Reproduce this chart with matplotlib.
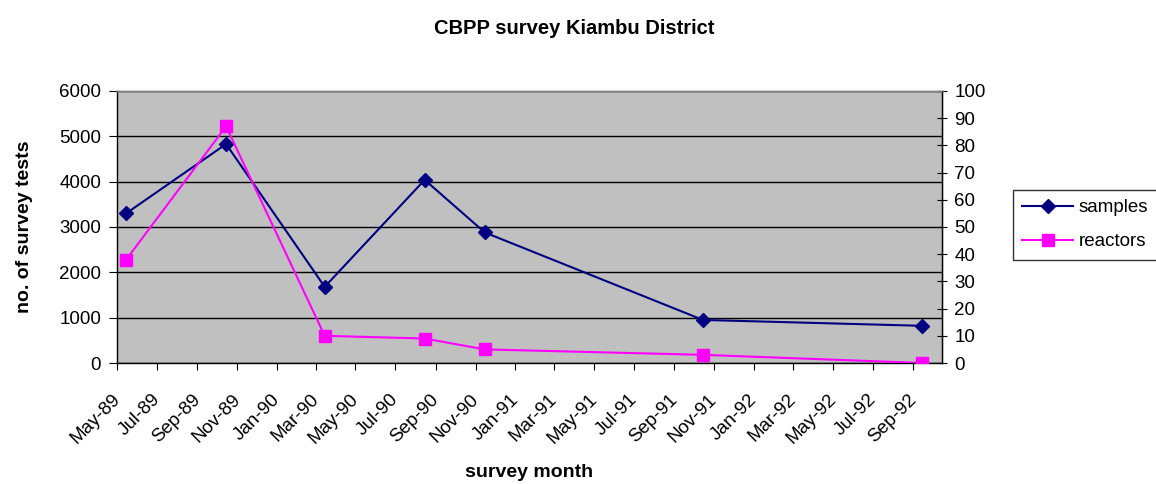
import matplotlib
matplotlib.use("Agg")
import matplotlib.pyplot as plt
import matplotlib.dates as mdates
from matplotlib.transforms import ScaledTranslation
import numpy as np
from datetime import datetime

plt.rcParams['font.family'] = ['Liberation Sans', 'DejaVu Sans']

survey_dates = ["1989-05-15", "1989-10-15", "1990-03-15", "1990-08-15",
                "1990-11-15", "1991-10-15", "1992-09-15"]
samples = [3300, 4830, 1680, 4040, 2880, 950, 820]
reactors = [38, 87, 10, 9, 5, 3, 0]

dates = [datetime.strptime(d, "%Y-%m-%d") for d in survey_dates]

fig = plt.figure(figsize=(11.56, 4.84), dpi=100)
ax = fig.add_axes([0.1012, 0.25, 0.7137, 0.562])
ax.set_facecolor('#C0C0C0')

ax.plot(dates, samples, color='#000080', lw=1.5, marker='D', markersize=7,
        label='samples', zorder=4)
ax.set_ylim(0, 6000)
ax.set_yticks(np.arange(0, 6001, 1000))
ax.yaxis.grid(True, color='black', lw=1)
ax.set_axisbelow(True)

ax.set_xlim(datetime(1989, 5, 1), datetime(1992, 10, 15))
ax.xaxis.set_major_locator(mdates.MonthLocator(bymonth=[1, 3, 5, 7, 9, 11]))
ax.xaxis.set_major_formatter(mdates.DateFormatter('%b-%y'))

ax2 = ax.twinx()
ax2.plot(dates, reactors, color='#FF00FF', lw=1.5, marker='s', markersize=8,
         label='reactors', zorder=4)
ax2.set_ylim(0, 100)
ax2.set_yticks(np.arange(0, 101, 10))

for a in (ax, ax2):
    for s in a.spines.values():
        s.set_color('#808080')
        s.set_linewidth(1)
ax.spines['left'].set_color('black')
ax.spines['bottom'].set_color('black')
ax2.spines['right'].set_color('black')
ax2.spines['left'].set_visible(False)
ax2.spines['bottom'].set_visible(False)

ax.tick_params(axis='y', labelsize=13.5, length=6, pad=5.5, direction='out')
ax.tick_params(axis='x', labelsize=13.5, length=5, pad=12, direction='out',
               rotation=45)
ax2.tick_params(axis='y', labelsize=13.5, length=7.5, pad=5, direction='inout')

ax.set_ylabel('no. of survey tests', fontsize=14, fontweight='bold', labelpad=19)
ax.set_xlabel('survey month', fontsize=14, fontweight='bold', labelpad=12)
fig.suptitle('CBPP survey Kiambu District', fontsize=14.5, fontweight='bold',
             x=0.497, y=0.96)

h1, l1 = ax.get_legend_handles_labels()
h2, l2 = ax2.get_legend_handles_labels()
leg = fig.legend(h1 + h2, l1 + l2, loc='upper left',
                 bbox_to_anchor=(1013 / 1156, 1 - 190 / 484),
                 fontsize=13.5, frameon=True, fancybox=False, edgecolor='black',
                 borderaxespad=0, handlelength=2.7, handletextpad=0.3,
                 borderpad=0.5, labelspacing=0.9)
leg.get_frame().set_linewidth(1)

fig.canvas.draw()
shift = ScaledTranslation(-4 / 72, -3 / 72, fig.dpi_scale_trans)
for lbl in ax.get_xticklabels():
    lbl.set_ha('right')
    lbl.set_va('top')
    lbl.set_rotation_mode('anchor')
    lbl.set_transform(lbl.get_transform() + shift)

fig.savefig('out.png', dpi=100)
